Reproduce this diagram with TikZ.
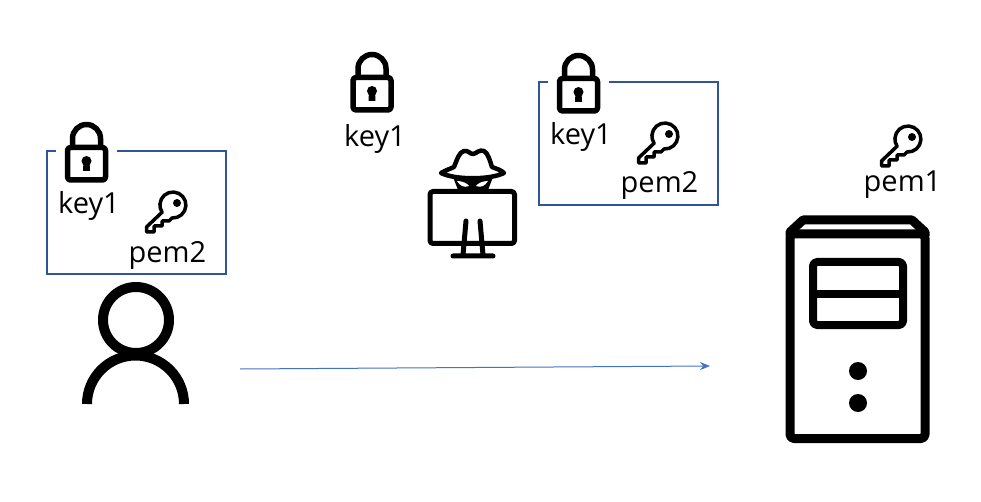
\documentclass[tikz,border=0pt]{standalone}
\usepackage{fontspec}
\setmainfont{Open Sans}
\usetikzlibrary{arrows.meta}
\definecolor{boxblue}{HTML}{2F5597}
\definecolor{lineblue}{HTML}{4472C4}
\tikzset{
    lbl/.style={anchor=base,inner sep=0pt,font=\fontsize{29}{32}\selectfont},
    icon/.style={line width=#1,line join=round},
    boxline/.style={draw=boxblue,line width=1.5pt},
    sendline/.style={draw=lineblue,line width=1pt,-{Stealth[length=10pt,width=8pt]}},
    lock/.pic={
      \draw[icon=5.5pt,rounded corners=3pt] (-19,2.5) rectangle (19,35);
      \draw[icon=5.5pt] (-14,3) -- (-14,-6.5) arc[start angle=180,end angle=360,radius=14] -- (14,3);
      \fill (0,16) circle (5);
      \fill (-3,16) -- (3,16) -- (3.5,26) -- (-3.5,26) -- cycle;
    },
    key/.pic={
      \draw[icon=3.5pt] (-11,7.3) -- (-26.5,22) -- (-26.5,27) -- (-19,27) -- (-19,21) -- (-11,21)
        -- (-11,16) -- (-4,16) -- (-1,13) arc[start angle=94,end angle=-214,radius=13] -- cycle;
      \fill (4,-2) circle (4);
    },
    keybox/.pic={
      \draw[boxline] (70,0) -- (179,0) -- (179,123) -- (0,123) -- (0,0) -- (9,0);
      \pic at (39.5,-6) {lock};
      \pic at (126,54) {key};
      \node[lbl] (-k) at (42,63) {key1};
      \node[lbl] (-p) at (120.5,111) {pem2};
    },
}
\begin{document}
\begin{tikzpicture}[x=1pt,y=-1pt]
\useasboundingbox[fill=white] (0,0) rectangle (981,502);
% client
\pic (userbox) at (47,151) {keybox};
\draw[icon=10pt] (136,320) circle (33);
\draw[icon=10pt] (87,404) arc[start angle=180,end angle=360,radius=48.5];
% eavesdropper
\pic at (372,75) {lock};
\node[lbl] (spykey) at (375,147) {key1};
\pic (spybox) at (539,82) {keybox};
\draw[icon=5pt,rounded corners=3pt] (430,191.5) rectangle (514.5,243.5);
\draw[icon=5pt,line cap=round] (466,221) -- (463,255) (480,221) -- (483,255) (453,256) -- (493,256);
\fill[white] (452,178) rectangle (494,188);
\fill (453,177) -- (458,190) -- (488,190) -- (493,177) -- cycle;
\fill[white] (457,181) .. controls (462,181) and (467,183) .. (469,186) .. controls (464,188) and (460,186) .. (457,181);
\fill[white] (488,181) .. controls (483,181) and (478,183) .. (476,186) .. controls (481,188) and (485,186) .. (488,181);
\draw[icon=4.5pt,fill=white] (441,173) .. controls (446,170) and (450,169) .. (454,167)
  .. controls (457,160) and (459,152) .. (464,151) .. controls (468,150) and (470,154) .. (473,154)
  .. controls (476,154) and (479,149) .. (484,151) .. controls (488,153) and (490,161) .. (492,167)
  .. controls (497,169) and (501,170) .. (504,173) .. controls (490,180) and (455,180) .. (441,173) -- cycle;
% server
\pic at (908,139) {key};
\node[lbl] (srvkey) at (902.5,192) {pem1};
\draw[icon=9pt,rounded corners=4pt] (790,234) rectangle (925,438.5);
\draw[icon=9pt] (790,236) -- (790,232) -- (803,220) -- (912,220) -- (925,232) -- (925,236);
\draw[icon=8pt,rounded corners=4pt] (813,262) rectangle (903,325);
\draw[icon=8pt] (813,293.5) -- (903,293.5);
\fill (858,371) circle (9);
\fill (858,403) circle (9);
% message
\coordinate (src) at (240,369);
\coordinate (dst) at (710,366);
\draw[sendline] (src) -- (dst);
\end{tikzpicture}
\end{document}
